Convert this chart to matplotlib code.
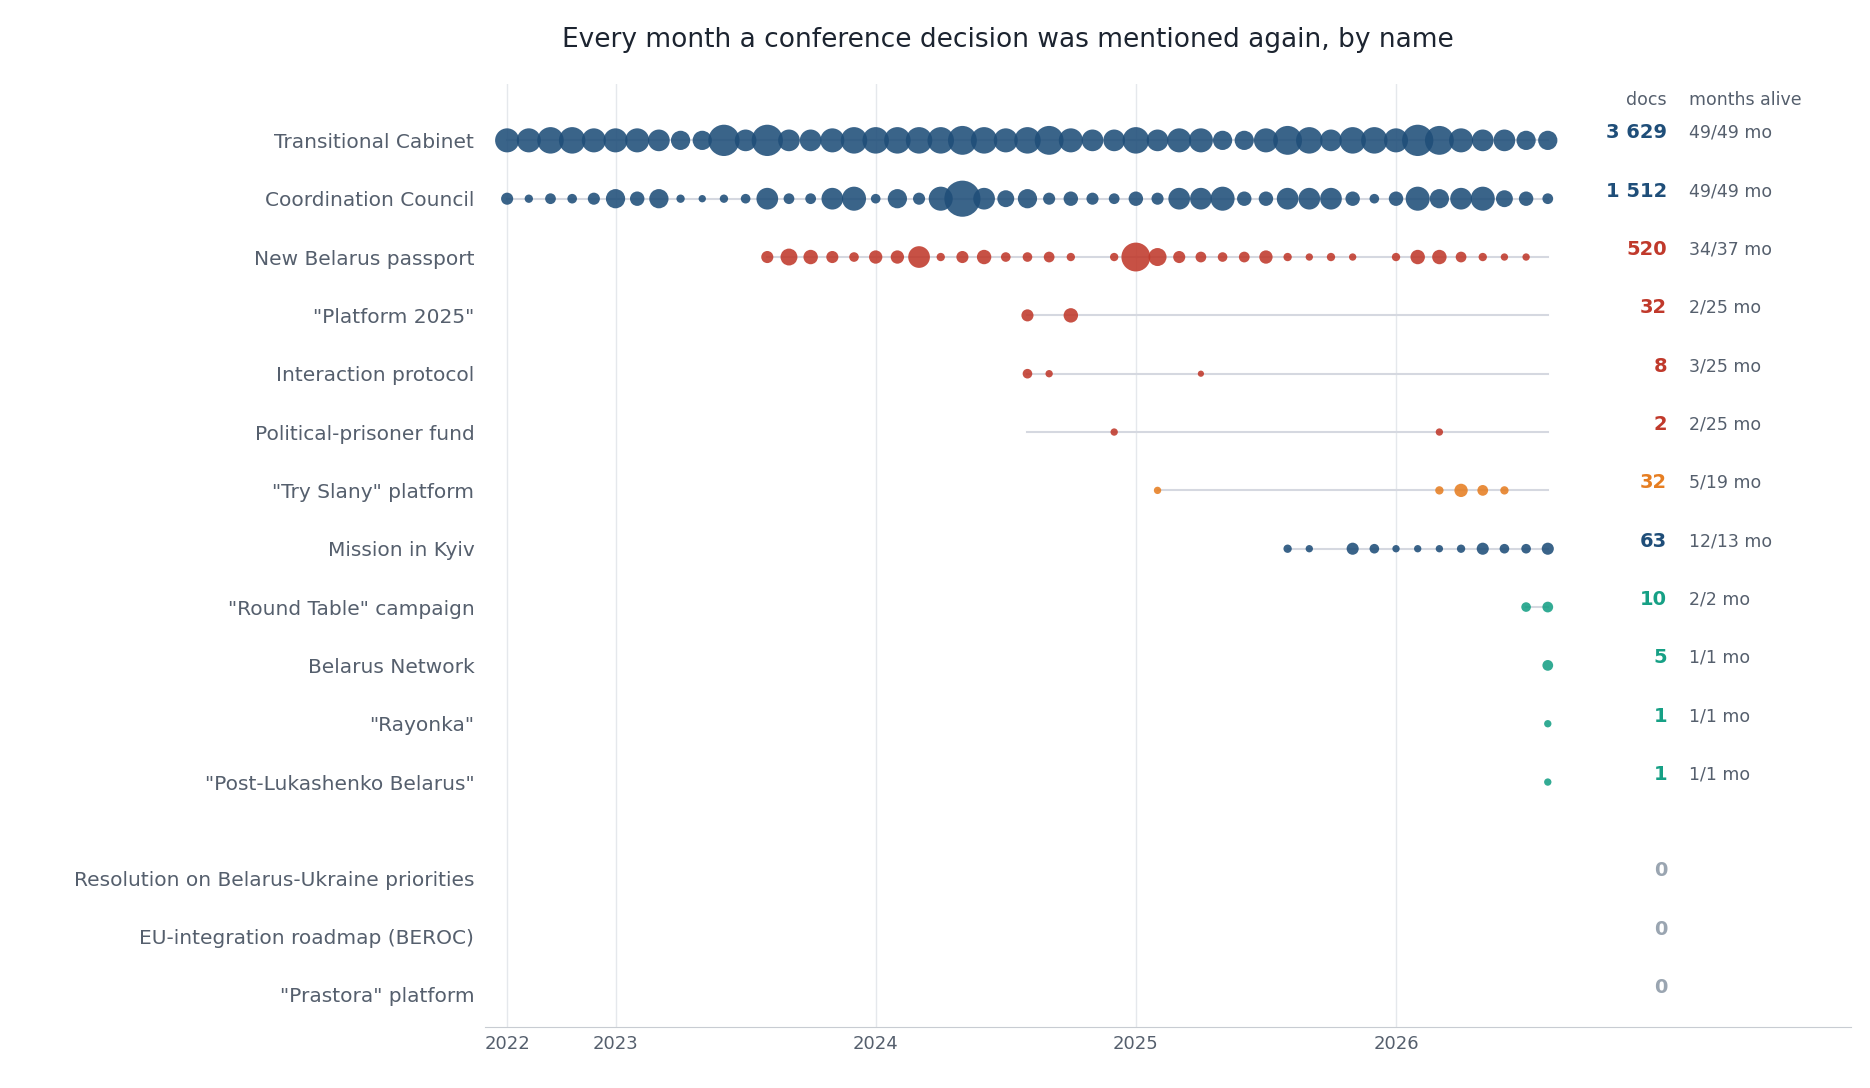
import numpy as np
import matplotlib.pyplot as plt

# month index 0 = Aug 2022 ... 48 = Aug 2026
names = ['Transitional Cabinet', 'Coordination Council', 'New Belarus passport',
         '"Platform 2025"', 'Interaction protocol', 'Political-prisoner fund',
         '"Try Slany" platform', 'Mission in Kyiv', '"Round Table" campaign',
         'Belarus Network', '"Rayonka"', '"Post-Lukashenko Belarus"',
         'Resolution on Belarus-Ukraine priorities', 'EU-integration roadmap (BEROC)',
         '"Prastora" platform']
docs = ['3 629', '1 512', '520', '32', '8', '2', '32', '63', '10', '5', '1', '1', '0', '0', '0']
alive = ['49/49 mo', '49/49 mo', '34/37 mo', '2/25 mo', '3/25 mo', '2/25 mo', '5/19 mo',
         '12/13 mo', '2/2 mo', '1/1 mo', '1/1 mo', '1/1 mo', '', '', '']
kind = ['blue', 'blue', 'red', 'red', 'red', 'red', 'orange', 'blue', 'green', 'green',
        'green', 'green', 'none', 'none', 'none']
line_start = [0, 0, 12, 24, 24, 24, 30, 36, 47, 48, 48, 48, None, None, None]

tc = [75, 75, 91, 91, 75, 75, 75, 61, 48, 48, 127, 61, 127, 61, 61, 75, 91, 91, 91, 91, 91,
      108, 91, 75, 91, 108, 75, 61, 61, 91, 61, 75, 75, 48, 48, 75, 108, 91, 61, 91, 91, 75,
      127, 108, 75, 61, 61, 48, 48]
cc = [19, 9, 15, 12, 19, 48, 27, 48, 9, 7, 9, 12, 61, 15, 15, 61, 75, 12, 48, 19, 75, 169, 61,
      37, 48, 19, 27, 19, 15, 27, 19, 61, 61, 75, 27, 27, 61, 61, 61, 27, 12, 27, 75, 48, 61,
      75, 37, 27, 15]
nbp = [19, 37, 27, 19, 12, 23, 23, 61, 9, 19, 27, 12, 12, 15, 9, 0, 9, 108, 42, 19, 15, 12,
       15, 23, 9, 7, 9, 7, 0, 9, 27, 27, 15, 9, 7, 7, 0]
monthly = [
    (0, tc), (0, cc), (12, nbp),
    (24, [19, 0, 27]),
    (24, [12, 7, 0, 0, 0, 0, 0, 0, 5]),
    (28, [7, 0, 0, 0, 0, 0, 0, 0, 0, 0, 0, 0, 0, 0, 0, 7]),
    (30, [7, 0, 0, 0, 0, 0, 0, 0, 0, 0, 0, 0, 0, 9, 23, 15, 9]),
    (36, [9, 7, 0, 19, 12, 7, 7, 7, 9, 19, 12, 12, 19]),
    (47, [12, 15]),
    (48, [15]), (48, [7]), (48, [7]),
]

colors = {'blue': '#1f4e79', 'red': '#c0392b', 'orange': '#e67e22', 'green': '#16a085',
          'none': '#9aa5b1'}
tick_pos = [0, 5, 17, 29, 41]
tick_lab = ['2022', '2023', '2024', '2025', '2026']

row_y = [i for i in range(12)] + [12.65, 13.65, 14.65]

fig = plt.figure(figsize=(18.7, 10.88), dpi=100)
ax = fig.add_axes([0.2596, 0.056, 0.7304, 0.867])

for i, name in enumerate(names):
    y = row_y[i]
    if line_start[i] is not None and line_start[i] < 48:
        ax.plot([line_start[i], 48], [y, y], color='#d5d8e0', lw=1.5, zorder=1)
    if i < len(monthly):
        start, vals = monthly[i]
        xs = [start + k for k, v in enumerate(vals) if v > 0]
        ss = [4 * v for v in vals if v > 0]
        ax.scatter(xs, [y] * len(xs), s=ss, color=colors[kind[i]], alpha=0.88,
                   edgecolors='none', zorder=2)
    ax.text(53.5, y - 0.13, docs[i], ha='right', va='center', fontsize=14,
            fontweight='bold', color=colors[kind[i]])
    ax.text(54.5, y - 0.13, alive[i], ha='left', va='center', fontsize=12.5, color='#555f6d')

ax.text(53.5, -0.7, 'docs', ha='right', va='center', fontsize=12.5, color='#555f6d')
ax.text(54.5, -0.7, 'months alive', ha='left', va='center', fontsize=12.5, color='#555f6d')

ax.set_xlim(-1, 62)
ax.set_ylim(15.2, -0.97)
ax.set_yticks(row_y)
ax.set_yticklabels(names, fontsize=14.5, color='#555f6d')
ax.set_xticks(tick_pos)
ax.set_xticklabels(tick_lab, fontsize=13, color='#555f6d')
ax.tick_params(length=0, pad=6)
ax.tick_params(axis='y', pad=8)
ax.grid(axis='x', color='#e5e8ec', lw=1)
ax.set_axisbelow(True)
for s in ['left', 'right', 'top']:
    ax.spines[s].set_visible(False)
ax.spines['bottom'].set_color('#c8ccd2')

fig.text(0.539, 0.963, 'Every month a conference decision was mentioned again, by name',
         ha='center', va='center', fontsize=19, color='#1c2430')

fig.savefig('out.png')
